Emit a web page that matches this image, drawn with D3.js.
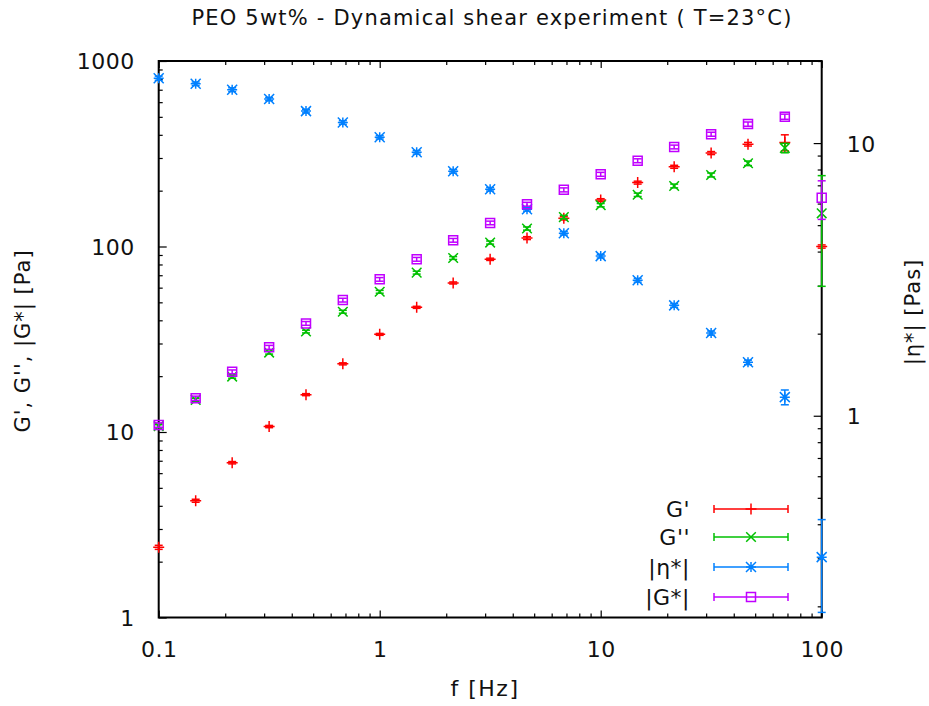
<!DOCTYPE html>
<html>
<head>
<meta charset="utf-8">
<script src="https://cdn.jsdelivr.net/npm/d3@7"></script>
<style>
  html, body { margin: 0; padding: 0; background: #fff; }
  svg { display: block; font-family: "DejaVu Sans", sans-serif; }
</style>
</head>
<body>
<div id="chart"></div>
<script>
// frequencies (Hz)
const freq = [0.1, 0.147, 0.215, 0.316, 0.464, 0.681, 1, 1.47, 2.15, 3.16, 4.64, 6.81, 10, 14.7, 21.5, 31.6, 46.4, 68.1, 100];

// G' [Pa]
const gStorage = [2.39, 4.26, 6.83, 10.7, 15.9, 23.3, 33.6, 47.0, 63.6, 85.3, 111, 142, 178, 221, 269, 319, 356, 364, 100];
const gStorageErr = [0.06, 0.08, 0.1, 0.15, 0.2, 0.3, 0.4, 0.6, 0.8, 1.2, 2, 3, 3, 4, 5, 6, 8, 36, 2];

// G'' [Pa]
const gLoss = [10.75, 14.9, 19.9, 26.8, 34.8, 44.5, 57.0, 72.3, 86.7, 105, 125, 144, 167, 190, 212, 243, 281, 340, 151];
const gLossErr = [0.2, 0.3, 0.4, 0.5, 0.6, 0.8, 1, 1.3, 1.5, 2, 2.5, 3, 3.5, 4, 5, 6, 8, 20, 90];

// |eta*| [Pas]
const etaStar = [17.3, 16.5, 15.7, 14.5, 13.1, 11.9, 10.5, 9.25, 7.88, 6.77, 5.72, 4.67, 3.85, 3.14, 2.54, 2.01, 1.57, 1.17, 0.303];
const etaStarErr = [0.3, 0.25, 0.25, 0.2, 0.2, 0.18, 0.15, 0.14, 0.12, 0.1, 0.09, 0.07, 0.06, 0.05, 0.04, 0.035, 0.03, 0.073, 0.113];

// |G*| [Pa]
const gStar = [10.9, 15.2, 21.1, 28.6, 38.5, 51.4, 66.5, 85.3, 108, 134, 169, 202, 245, 290, 344, 403, 457, 501, 183];
const gStarErr = [0.3, 0.4, 0.5, 0.7, 0.9, 1.2, 1.5, 2, 2.5, 3, 4, 5, 6, 7, 8, 10, 12, 16, 43];

const W = 929, H = 706;
const plot = { left: 158.7, right: 821.7, top: 61, bottom: 617.5 };

const svg = d3.select('#chart').append('svg').attr('width', W).attr('height', H);

const x = d3.scaleLog().domain([0.1, 100]).range([plot.left, plot.right]);
const y = d3.scaleLog().domain([1, 1000]).range([plot.bottom, plot.top]);
const y2 = d3.scaleLog().domain([0.182, 20]).range([plot.bottom, plot.top]);

const isMajor = v => Math.abs(Math.log10(v) - Math.round(Math.log10(v))) < 1e-6;
const fmt = v => isMajor(v) ? String(v) : '';

// ---- axes (ticks pointing inward, gnuplot style)
const styleAxis = g => {
  g.select('.domain').remove();
  g.selectAll('.tick line').attr('stroke', '#000').attr('stroke-width', 1.2);
  g.selectAll('text').attr('fill', '#111').attr('font-size', 22)
    .attr('letter-spacing', 0.5).attr('font-family', '"DejaVu Sans", sans-serif');
};

const xAll = x.ticks();
const gx = svg.append('g').attr('transform', `translate(0,${plot.bottom})`)
  .call(d3.axisBottom(x).tickValues(xAll).tickFormat(fmt).tickSizeInner(-7).tickPadding(24));
styleAxis(gx);
gx.selectAll('.tick line').attr('y2', d => isMajor(d) ? -7 : -4);

const gxTop = svg.append('g').attr('transform', `translate(0,${plot.top})`)
  .call(d3.axisTop(x).tickValues(xAll).tickFormat('').tickSizeInner(-7));
styleAxis(gxTop);
gxTop.selectAll('.tick line').attr('y2', d => isMajor(d) ? 7 : 4);

const yAll = y.ticks();
const gy = svg.append('g').attr('transform', `translate(${plot.left},0)`)
  .call(d3.axisLeft(y).tickValues(yAll).tickFormat(fmt).tickSizeInner(-7).tickPadding(24));
styleAxis(gy);
gy.selectAll('.tick line').attr('x2', d => isMajor(d) ? 8 : 4);
gy.selectAll('.tick text').attr('dy', '0.36em');

const y2All = y2.ticks().filter(v => v >= 0.182 && v <= 20);
const gy2 = svg.append('g').attr('transform', `translate(${plot.right},0)`)
  .call(d3.axisRight(y2).tickValues(y2All).tickFormat(fmt).tickSizeInner(-7).tickPadding(25));
styleAxis(gy2);
gy2.selectAll('.tick line').attr('x2', d => isMajor(d) ? -8 : -4);
gy2.selectAll('.tick text').attr('dy', '0.36em');

// border
svg.append('rect')
  .attr('x', plot.left).attr('y', plot.top)
  .attr('width', plot.right - plot.left).attr('height', plot.bottom - plot.top)
  .attr('fill', 'none').attr('stroke', '#000').attr('stroke-width', 2);

// ---- data series
const markers = {
  plus: s => `M${-s},0H${s}M0,${-s}V${s}`,
  cross: s => `M${-s},${-s}L${s},${s}M${-s},${s}L${s},${-s}`,
  star: s => `M${-s},0H${s}M0,${-s}V${s}M${-s},${-s}L${s},${s}M${-s},${s}L${s},${-s}`,
  square: s => `M${-s},${-s}H${s}V${s}H${-s}Z`
};

const series = [
  { name: "G'", values: gStorage, err: gStorageErr, color: '#ff0000', marker: 'plus', size: 5.5, scale: y },
  { name: "G''", values: gLoss, err: gLossErr, color: '#00c000', marker: 'cross', size: 4.8, scale: y },
  { name: '|η*|', values: etaStar, err: etaStarErr, color: '#0080ff', marker: 'star', size: 5, scale: y2 },
  { name: '|G*|', values: gStar, err: gStarErr, color: '#c000ff', marker: 'square', size: 4.5, scale: y }
];

const cap = 4;
series.forEach(s => {
  const pts = freq.map((f, i) => ({ f, v: s.values[i], e: s.err[i] }));
  const g = svg.append('g').attr('stroke', s.color).attr('fill', 'none').attr('stroke-width', 1.5);

  const eb = g.selectAll('g.err').data(pts).join('g').attr('class', 'err');
  eb.append('line')
    .attr('x1', d => x(d.f)).attr('x2', d => x(d.f))
    .attr('y1', d => s.scale(d.v - d.e)).attr('y2', d => s.scale(d.v + d.e));
  eb.append('line')
    .attr('x1', d => x(d.f) - cap).attr('x2', d => x(d.f) + cap)
    .attr('y1', d => s.scale(d.v - d.e)).attr('y2', d => s.scale(d.v - d.e));
  eb.append('line')
    .attr('x1', d => x(d.f) - cap).attr('x2', d => x(d.f) + cap)
    .attr('y1', d => s.scale(d.v + d.e)).attr('y2', d => s.scale(d.v + d.e));

  g.selectAll('path.pt').data(pts).join('path').attr('class', 'pt')
    .attr('transform', d => `translate(${x(d.f)},${s.scale(d.v)})`)
    .attr('d', markers[s.marker](s.size));
});

// ---- legend
const legendRows = [509, 537, 567, 597];
const lg = svg.append('g');
series.forEach((s, i) => {
  const ly = legendRows[i];
  lg.append('text')
    .attr('x', 690).attr('y', ly).attr('dy', '0.36em')
    .attr('text-anchor', 'end').attr('font-size', 22).attr('letter-spacing', 0.5).attr('fill', '#111')
    .text(s.name);
  const row = lg.append('g').attr('stroke', s.color).attr('fill', 'none').attr('stroke-width', 1.5);
  row.append('line').attr('x1', 714).attr('x2', 788).attr('y1', ly).attr('y2', ly);
  row.append('line').attr('x1', 714).attr('x2', 714).attr('y1', ly - 4).attr('y2', ly + 4);
  row.append('line').attr('x1', 788).attr('x2', 788).attr('y1', ly - 4).attr('y2', ly + 4);
  row.append('path').attr('transform', `translate(751,${ly})`).attr('d', markers[s.marker](s.size));
});

// ---- titles
svg.append('text')
  .attr('x', 492).attr('y', 25)
  .attr('text-anchor', 'middle').attr('font-size', 21).attr('letter-spacing', 1.2).attr('fill', '#111')
  .text('PEO 5wt% - Dynamical shear experiment ( T=23°C)');

svg.append('text')
  .attr('x', 485).attr('y', 696)
  .attr('text-anchor', 'middle').attr('font-size', 22).attr('letter-spacing', 1.5).attr('fill', '#111')
  .text('f [Hz]');

svg.append('text')
  .attr('transform', 'translate(22,341) rotate(-90)')
  .attr('text-anchor', 'middle').attr('dy', '0.36em')
  .attr('font-size', 21).attr('letter-spacing', 1).attr('fill', '#111')
  .text("G', G'', |G*| [Pa]");

svg.append('text')
  .attr('transform', 'translate(912,312) rotate(-90)')
  .attr('text-anchor', 'middle').attr('dy', '0.36em')
  .attr('font-size', 21).attr('letter-spacing', 1).attr('fill', '#111')
  .text('|η*| [Pas]');
</script>
</body>
</html>
